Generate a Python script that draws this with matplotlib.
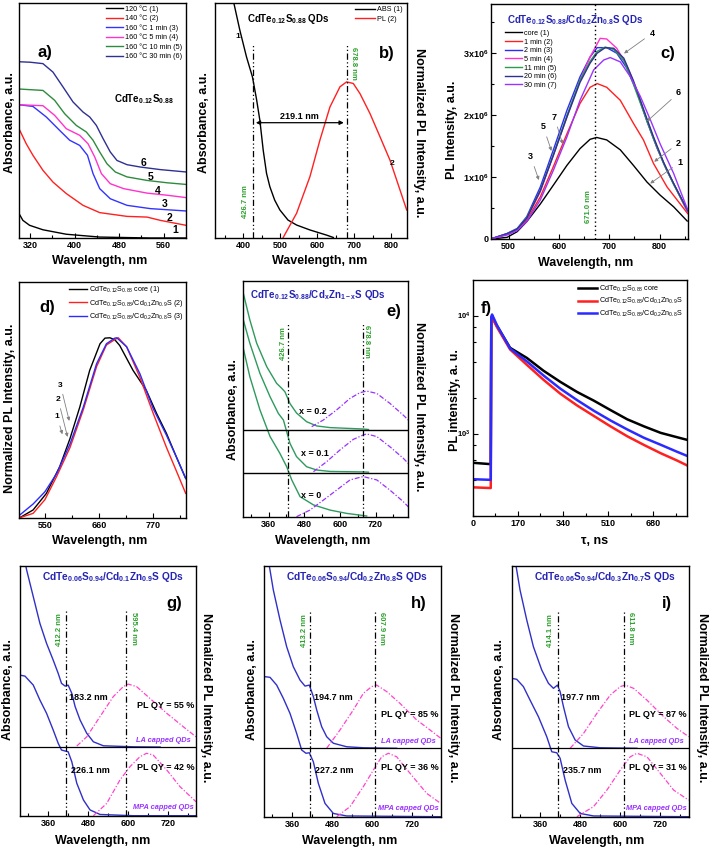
import numpy as np
import matplotlib
matplotlib.use('Agg')
import matplotlib.pyplot as plt
from matplotlib.ticker import FixedLocator, NullFormatter

plt.rcParams['font.family'] = ['Liberation Sans', 'DejaVu Sans']
plt.rcParams['font.weight'] = 'bold'
plt.rcParams['mathtext.default'] = 'regular'
plt.rcParams['axes.linewidth'] = 1.0

# ---------------- panel a: absorbance vs growth time ----------------
a_labels = ['120 °C (1)', '140 °C (2)', '160 °C 1 min (3)', '160 °C 5 min (4)',
            '160 °C 10 min (5)', '160 °C 30 min (6)']
a_x1 = [300, 307, 319, 343, 385, 445, 536, 600]
a_y1 = [0.104, 0.075, 0.054, 0.035, 0.016, 0.004, 0.0, 0.0]
a_x2 = [300, 313, 325, 343, 361, 385, 415, 445, 494, 530, 554, 578, 600]
a_y2 = [0.465, 0.401, 0.352, 0.288, 0.238, 0.189, 0.139, 0.108, 0.092, 0.089, 0.075, 0.064, 0.054]
a_x3 = [300, 325, 349, 373, 391, 409, 423, 433, 445, 464, 494, 536, 600]
a_y3 = [0.567, 0.560, 0.515, 0.458, 0.416, 0.394, 0.352, 0.274, 0.210, 0.167, 0.139, 0.125, 0.115]
a_x4 = [300, 343, 364, 385, 409, 424, 436, 448, 464, 488, 530, 566, 600]
a_y4 = [0.567, 0.563, 0.522, 0.465, 0.437, 0.401, 0.345, 0.274, 0.231, 0.210, 0.191, 0.182, 0.172]
a_x5 = [300, 343, 364, 382, 403, 421, 433, 445, 458, 473, 494, 530, 566, 600]
a_y5 = [0.634, 0.628, 0.586, 0.529, 0.479, 0.451, 0.416, 0.366, 0.316, 0.281, 0.260, 0.245, 0.235, 0.228]
a_x6 = [300, 320, 343, 361, 379, 397, 415, 427, 439, 451, 464, 476, 494, 518, 554, 600]
a_y6 = [0.750, 0.748, 0.742, 0.706, 0.643, 0.579, 0.536, 0.515, 0.479, 0.423, 0.366, 0.330, 0.312, 0.302, 0.291, 0.281]
a_colors = ['black', '#FF2020', '#3333FF', '#FF33CC', '#2E8B3E', '#2E3192']

# ---------------- panel b: ABS and PL ----------------
b_abs_x = [372, 391, 409, 425, 436, 445, 454, 463, 472, 485, 499, 521, 544, 580, 625, 643]
b_abs_y = [1.02, 0.884, 0.77, 0.685, 0.59, 0.5, 0.373, 0.274, 0.217, 0.16, 0.118, 0.075, 0.054, 0.033, 0.011, 0.001]
b_pl_x = [508, 544, 580, 607, 634, 661, 679, 697, 715, 742, 769, 796, 823, 841]
b_pl_y = [0.001, 0.104, 0.26, 0.416, 0.557, 0.643, 0.664, 0.657, 0.614, 0.529, 0.43, 0.33, 0.203, 0.118]
b_marks = [426.7, 678.8]

# ---------------- panel c: PL vs shell growth time (x1e6) ----------------
c_labels = ['core (1)', '1 min (2)', '2 min (3)', '5 min (4)', '11 min (5)', '20 min (6)', '30 min (7)']
c_colors = ['black', '#FF2020', '#2B2BFF', '#FF33CC', '#2E9A4E', '#2E3192', '#9933FF']
c_x1 = [466, 497, 517, 536, 563, 589, 616, 642, 662, 675, 695, 722, 748, 775, 801, 828, 855]
c_y1 = [0.0, 0.027, 0.118, 0.28, 0.565, 0.87, 1.19, 1.46, 1.61, 1.64, 1.60, 1.44, 1.19, 0.92, 0.71, 0.52, 0.29]
c_x2 = [466, 497, 517, 536, 563, 589, 616, 642, 662, 676, 695, 722, 748, 768, 788, 815, 835, 856]
c_y2 = [0.005, 0.075, 0.156, 0.306, 0.68, 1.17, 1.70, 2.19, 2.45, 2.51, 2.45, 2.24, 1.87, 1.60, 1.22, 0.84, 0.63, 0.41]
c_x3 = [466, 497, 517, 536, 563, 589, 616, 642, 662, 676, 695, 715, 735, 755, 775, 795, 815, 835, 856]
c_y3 = [0.005, 0.09, 0.17, 0.36, 0.84, 1.44, 2.08, 2.62, 2.94, 3.09, 3.09, 3.0, 2.76, 2.38, 1.90, 1.47, 1.10, 0.78, 0.44]
c_x4 = [466, 497, 517, 536, 563, 589, 616, 642, 662, 682, 695, 715, 735, 755, 775, 795, 815, 835, 856]
c_y4 = [0.005, 0.08, 0.156, 0.333, 0.763, 1.355, 1.973, 2.565, 2.94, 3.24, 3.23, 3.08, 2.80, 2.40, 1.92, 1.48, 1.10, 0.78, 0.43]
c_x5 = [466, 497, 517, 536, 563, 589, 616, 642, 662, 676, 692, 709, 729, 748, 768, 788, 808, 828, 856]
c_y5 = [0.005, 0.085, 0.16, 0.34, 0.79, 1.37, 2.0, 2.57, 2.87, 3.03, 3.10, 3.06, 2.88, 2.50, 2.06, 1.62, 1.22, 0.88, 0.45]
c_x6 = [466, 497, 517, 536, 563, 589, 616, 642, 662, 676, 692, 709, 729, 748, 768, 788, 808, 828, 856]
c_y6 = [0.005, 0.085, 0.16, 0.335, 0.78, 1.35, 1.97, 2.53, 2.84, 3.0, 3.09, 3.08, 2.92, 2.56, 2.10, 1.65, 1.24, 0.90, 0.46]
c_x7 = [466, 497, 517, 536, 563, 589, 616, 642, 669, 689, 702, 722, 742, 762, 782, 801, 828, 856]
c_y7 = [0.005, 0.065, 0.134, 0.28, 0.63, 1.11, 1.65, 2.24, 2.73, 2.89, 2.93, 2.86, 2.62, 2.30, 1.92, 1.54, 1.06, 0.47]
c_peak = 671.0

# ---------------- panel d: normalized PL ----------------
d_labels = [r'CdTe$_{0.12}$S$_{0.88}$ core (1)',
            r'CdTe$_{0.12}$S$_{0.88}$/Cd$_{0.1}$Zn$_{0.9}$S (2)',
            r'CdTe$_{0.12}$S$_{0.88}$/Cd$_{0.2}$Zn$_{0.8}$S (3)']
d_x1 = [499, 526, 553, 580, 601, 621, 641, 662, 672, 682, 692, 702, 729, 756, 777, 797, 817, 836]
d_y1 = [0.0, 0.043, 0.135, 0.283, 0.44, 0.616, 0.819, 0.967, 0.998, 1.0, 0.989, 0.957, 0.819, 0.708, 0.579, 0.468, 0.338, 0.218]
d_x2 = [499, 526, 550, 574, 601, 628, 655, 675, 692, 699, 716, 743, 770, 797, 817, 836]
d_y2 = [0.0, 0.024, 0.1, 0.23, 0.39, 0.6, 0.84, 0.96, 0.99, 1.0, 0.95, 0.78, 0.58, 0.39, 0.26, 0.135]
d_x3 = [499, 526, 550, 574, 601, 628, 655, 675, 692, 696, 716, 743, 770, 797, 817, 836]
d_y3 = [0.015, 0.076, 0.144, 0.246, 0.41, 0.615, 0.856, 0.967, 0.998, 1.0, 0.95, 0.8, 0.606, 0.458, 0.338, 0.218]

# ---------------- panel e: stacked ABS / PL ----------------
e_base = [0.187, 0.368]
e_abs_x = [[275, 297, 331, 365, 398, 421, 438, 466, 511, 567, 623, 690],
           [275, 297, 331, 365, 393, 410, 432, 454, 488, 522, 567, 679, 696],
           [275, 297, 320, 354, 387, 404, 415, 432, 454, 488, 522, 567, 679, 696]]
e_abs_y = [[0.714, 0.594, 0.453, 0.34, 0.269, 0.212, 0.156, 0.085, 0.05, 0.028, 0.014, 0.003],
           [0.835, 0.736, 0.608, 0.509, 0.438, 0.41, 0.311, 0.255, 0.212, 0.198, 0.192, 0.19, 0.189],
           [0.948, 0.835, 0.736, 0.636, 0.566, 0.545, 0.53, 0.48, 0.44, 0.403, 0.385, 0.378, 0.372, 0.37]]
e_pl_x = [[454, 499, 544, 589, 634, 667, 679, 724, 768, 813, 830],
          [511, 555, 600, 645, 679, 690, 724, 768, 813, 830],
          [505, 544, 589, 634, 667, 690, 724, 768, 813, 830]]
e_pl_y = [[0.0, 0.028, 0.07, 0.113, 0.156, 0.167, 0.17, 0.156, 0.113, 0.064, 0.042],
          [0.191, 0.233, 0.283, 0.328, 0.347, 0.351, 0.34, 0.297, 0.248, 0.226],
          [0.382, 0.41, 0.453, 0.502, 0.526, 0.533, 0.523, 0.481, 0.431, 0.41]]
e_text = ['x = 0', 'x = 0.1', 'x = 0.2']

# ---------------- panel f: PL decay ----------------
f_labels = [r'CdTe$_{0.12}$S$_{0.88}$ core',
            r'CdTe$_{0.12}$S$_{0.88}$/Cd$_{0.1}$Zn$_{0.9}$S',
            r'CdTe$_{0.12}$S$_{0.88}$/Cd$_{0.2}$Zn$_{0.8}$S']
f_t = [0, 68, 70, 73, 91, 141, 204, 267, 330, 393, 456, 519, 582, 645, 708, 770, 805]
f_black = [565, 550, 9500, 9800, 8200, 5320, 4370, 3400, 2740, 2250, 1900, 1580, 1320, 1150, 1013, 930, 887]
f_red = [350, 345, 9000, 9600, 8000, 5150, 3820, 2850, 2175, 1730, 1410, 1150, 948, 800, 681, 590, 540]
f_blue = [410, 405, 9800, 10200, 8300, 5250, 4085, 3100, 2400, 1920, 1560, 1290, 1083, 920, 803, 700, 650]

# ---------------- panels g, h, i: LA vs MPA capped ----------------
g_la_x = [285, 295, 315, 335, 355, 375, 390, 400, 411, 420, 431, 441, 456, 476, 496, 526, 616, 697]
g_la_y = [1.05, 0.984, 0.877, 0.77, 0.69, 0.623, 0.57, 0.53, 0.519, 0.523, 0.49, 0.437, 0.383, 0.33, 0.296, 0.28, 0.276, 0.275]
g_mpa_x = [275, 290, 315, 335, 355, 375, 390, 400, 411, 420, 431, 446, 466, 486, 516, 616, 805]
g_mpa_y = [0.563, 0.559, 0.523, 0.463, 0.41, 0.343, 0.29, 0.263, 0.259, 0.256, 0.216, 0.13, 0.063, 0.023, 0.005, 0.0, 0.0]
g_lapl_x = [446, 476, 516, 556, 586, 601, 626, 666, 717, 767, 805]
g_lapl_y = [0.279, 0.316, 0.397, 0.477, 0.517, 0.527, 0.517, 0.47, 0.41, 0.356, 0.316]
g_mpapl_x = [496, 536, 576, 606, 636, 656, 676, 717, 757, 805]
g_mpapl_y = [0.0, 0.049, 0.143, 0.196, 0.236, 0.25, 0.243, 0.183, 0.116, 0.056]

h_la_x = [283, 293, 303, 323, 343, 363, 383, 398, 411, 423, 433, 448, 463, 483, 523, 573, 673]
h_la_y = [1.06, 0.984, 0.904, 0.785, 0.678, 0.598, 0.545, 0.521, 0.525, 0.479, 0.426, 0.359, 0.319, 0.293, 0.279, 0.275, 0.273]
h_mpa_x = [275, 293, 313, 333, 353, 373, 388, 401, 411, 423, 438, 458, 483, 523, 805]
h_mpa_y = [0.559, 0.556, 0.525, 0.472, 0.412, 0.332, 0.266, 0.253, 0.255, 0.219, 0.133, 0.053, 0.013, 0.003, 0.0]
h_lapl_x = [463, 503, 543, 573, 598, 613, 643, 683, 733, 773, 805]
h_lapl_y = [0.273, 0.346, 0.426, 0.492, 0.519, 0.525, 0.499, 0.452, 0.386, 0.346, 0.313]
h_mpapl_x = [493, 533, 573, 603, 628, 648, 673, 713, 763, 805]
h_mpapl_y = [0.0, 0.04, 0.12, 0.186, 0.239, 0.253, 0.239, 0.173, 0.093, 0.053]

i_la_x = [281, 290, 300, 320, 340, 365, 385, 400, 412, 420, 430, 445, 465, 490, 540, 650]
i_la_y = [1.06, 0.984, 0.904, 0.785, 0.678, 0.585, 0.532, 0.512, 0.525, 0.499, 0.439, 0.359, 0.306, 0.282, 0.275, 0.273]
i_mpa_x = [275, 290, 310, 330, 355, 380, 395, 410, 420, 435, 455, 480, 520, 805]
i_mpa_y = [0.552, 0.548, 0.519, 0.465, 0.399, 0.319, 0.259, 0.255, 0.233, 0.146, 0.053, 0.013, 0.003, 0.0]
i_lapl_x = [450, 490, 530, 570, 600, 615, 640, 680, 730, 770, 805]
i_lapl_y = [0.273, 0.332, 0.412, 0.485, 0.519, 0.525, 0.512, 0.465, 0.399, 0.352, 0.319]
i_mpapl_x = [470, 520, 560, 600, 630, 650, 680, 720, 760, 805]
i_mpapl_y = [0.0, 0.04, 0.106, 0.186, 0.239, 0.253, 0.239, 0.173, 0.106, 0.066]

ghi_titles = [r'CdTe$_{0.06}$S$_{0.94}$/Cd$_{0.1}$Zn$_{0.9}$S QDs',
              r'CdTe$_{0.06}$S$_{0.94}$/Cd$_{0.2}$Zn$_{0.8}$S QDs',
              r'CdTe$_{0.06}$S$_{0.94}$/Cd$_{0.3}$Zn$_{0.7}$S QDs']
ghi_marks = [(412.2, 595.4), (413.2, 607.9), (414.1, 611.8)]
ghi_shift = [('183.2 nm', '226.1 nm'), ('194.7 nm', '227.2 nm'), ('197.7 nm', '235.7 nm')]
ghi_qy = [(55, 42), (85, 36), (87, 31)]
ghi_tag = ['g)', 'h)', 'i)']

W, H = 709, 852
fig = plt.figure(figsize=(W / 100, H / 100), dpi=100)

GREEN_T = '#2CA02C'
TITLE_B = '#2424B4'
DDOT = (0, (5, 2, 1, 2, 1, 2))
DASHDOT = (0, (4, 1.5, 1, 1.5))
LBL = 9
TCK = 6.5


def box(l, t, r, b):
    return fig.add_axes([l / W, 1 - b / H, (r - l) / W, (b - t) / H])


def ftext(px, py, s, rot=0, size=LBL, **kw):
    fig.text(px / W, 1 - py / H, s, rotation=rot, ha='center', va='center', fontsize=size, **kw)


def style(ax, major, minor):
    ax.set_xticks(major)
    ax.xaxis.set_minor_locator(FixedLocator(minor))
    ax.set_yticks([])
    ax.tick_params(axis='both', which='both', direction='in', labelsize=TCK, pad=2.5, width=0.8)
    ax.tick_params(which='major', length=3.5)
    ax.tick_params(which='minor', length=2)


leg_kw = dict(frameon=False, prop={'size': 5.2, 'weight': 'normal'}, handletextpad=0.3,
              borderaxespad=0.1, borderpad=0.2)

# ---- a ----
ax = box(19, 3, 186, 238)
for xs, ys, c, lab in zip([a_x1, a_x2, a_x3, a_x4, a_x5, a_x6], [a_y1, a_y2, a_y3, a_y4, a_y5, a_y6],
                          a_colors, a_labels):
    ax.plot(xs, ys, color=c, lw=1.0, label=lab)
ax.set_xlim(300, 600)
ax.set_ylim(0, 1)
style(ax, [320, 400, 480, 560], [360, 440, 520])
ax.legend(loc='upper right', bbox_to_anchor=(0.99, 1.0), handlelength=2.3, labelspacing=0.25, **leg_kw)
for k, (xx, yy) in enumerate([(580, 0.033), (571, 0.087), (562, 0.146), (549, 0.2), (537, 0.26), (524, 0.319)]):
    ax.text(xx, yy, str(k + 1), fontsize=7.5, ha='center', va='center')
ax.text(0.11, 0.79, 'a)', transform=ax.transAxes, fontsize=12, ha='left', va='center')
ax.text(0.745, 0.589, r'CdTe$_{0.12}$S$_{0.88}$', transform=ax.transAxes, fontsize=7, ha='center', va='center')
ftext(10, 123, 'Absorbance, a.u.', rot=90)
ftext(100, 261, 'Wavelength, nm')

# ---- b ----
ax = box(215, 3, 406.7, 237.7)
ax.plot(b_abs_x, b_abs_y, color='black', lw=1.0, label='ABS (1)')
ax.plot(b_pl_x, b_pl_y, color='#FF2020', lw=1.0, label='PL (2)')
ax.set_xlim(324, 841)
ax.set_ylim(0, 1)
style(ax, [400, 500, 600, 700, 800], [350, 450, 550, 650, 750])
for m in b_marks:
    ax.plot([m, m], [0, 0.827], color='black', lw=0.9, ls=DDOT)
ax.annotate('', xy=(b_marks[0], 0.49), xytext=(b_marks[1], 0.49),
            arrowprops=dict(arrowstyle='<|-|>', color='black', lw=0.9, mutation_scale=6))
ax.text(552, 0.515, '219.1 nm', fontsize=6.5, ha='center', va='center')
ax.text(407, 0.153, '426.7 nm', rotation=90, color=GREEN_T, fontsize=5.5, ha='center', va='center')
ax.text(697, 0.742, '678.8 nm', rotation=-90, color=GREEN_T, fontsize=5.5, ha='center', va='center')
ax.legend(loc='upper right', bbox_to_anchor=(0.99, 0.995), handlelength=2.8, labelspacing=0.35, **leg_kw)
ax.text(0.381, 0.93, r'CdTe$_{0.12}$S$_{0.88}$ QDs', transform=ax.transAxes, fontsize=7, ha='center', va='center')
ax.text(0.897, 0.786, 'b)', transform=ax.transAxes, fontsize=12, ha='center', va='center')
ax.text(0.12, 0.858, '1', transform=ax.transAxes, fontsize=6, ha='center', va='center')
ax.text(0.923, 0.318, '2', transform=ax.transAxes, fontsize=6, ha='center', va='center')
ftext(204, 123, 'Absorbance, a.u.', rot=90)
ftext(419, 133, 'Normalized PL Intensity, a.u.', rot=-90)
ftext(320, 261, 'Wavelength, nm')

# ---- c ----
ax = box(491, 4.3, 687.7, 239)
for xs, ys, c, lab in zip([c_x1, c_x2, c_x3, c_x4, c_x5, c_x6, c_x7],
                          [c_y1, c_y2, c_y3, c_y4, c_y5, c_y6, c_y7], c_colors, c_labels):
    ax.plot(xs, np.array(ys) * 1e6, color=c, lw=1.0, label=lab)
ax.set_xlim(465, 856)
ax.set_ylim(0, 3.79e6)
style(ax, [500, 600, 700, 800], [550, 650, 750, 850])
ax.set_yticks([0, 1e6, 2e6, 3e6])
ax.set_yticklabels(['0', r'1x10$^6$', r'2x10$^6$', r'3x10$^6$'])
ax.yaxis.set_minor_locator(FixedLocator([0.5e6, 1.5e6, 2.5e6, 3.5e6]))
ax.tick_params(axis='y', which='both', direction='in', labelsize=6.5, pad=2)
ax.axvline(c_peak, color='black', lw=1.0, ls=(0, (1, 2)))
ax.text(c_peak - 5, 0.52e6, '671.0 nm', rotation=90, color=GREEN_T, fontsize=5.5, ha='right', va='center')
ax.legend(loc='upper left', bbox_to_anchor=(0.06, 0.9), handlelength=2.3, labelspacing=0.22, **leg_kw)
ax.text(0.43, 0.935, r'CdTe$_{0.12}$S$_{0.88}$/Cd$_{0.2}$Zn$_{0.8}$S QDs', transform=ax.transAxes,
        fontsize=7, color=TITLE_B, ha='center', va='center')
ax.text(0.9, 0.79, 'c)', transform=ax.transAxes, fontsize=12, ha='center', va='center')
arr = dict(arrowstyle='-|>', color='0.5', lw=0.6, mutation_scale=5)
for s, xy, xt in [('4', (725, 2.97), (785, 3.32)), ('6', (771, 1.87), (838, 2.36)),
                  ('2', (785, 1.22), (838, 1.55)), ('1', (777, 0.87), (841, 1.24)),
                  ('7', (609, 1.49), (591, 1.97)), ('5', (587, 1.38), (569, 1.81)),
                  ('3', (562, 0.91), (544, 1.33))]:
    ax.annotate(s, xy=(xy[0], xy[1] * 1e6), xytext=(xt[0], xt[1] * 1e6), fontsize=6.5,
                ha='center', va='center', arrowprops=arr)
ftext(452, 130, 'PL Intensity, a.u.', rot=90)
ftext(586, 263, 'Wavelength, nm')

# ---- d ----
ax = box(19.3, 282, 185.7, 517.7)
for xs, ys, c, lab in zip([d_x1, d_x2, d_x3], [d_y1, d_y2, d_y3], ['black', '#FF2020', '#2B2BFF'], d_labels):
    ax.plot(xs, ys, color=c, lw=1.0, label=lab)
ax.set_xlim(498, 836)
ax.set_ylim(0, 1.31)
style(ax, [550, 660, 770], [495, 605, 715, 825])
ax.legend(loc='upper right', bbox_to_anchor=(1.0, 1.0), handlelength=2.5, labelspacing=0.35, **leg_kw)
for s, xy, xt in [('3', (600.8, 0.523), (581.8, 0.736)), ('2', (597.4, 0.434), (577, 0.656)),
                  ('1', (587, 0.449), (575, 0.56))]:
    ax.annotate(s, xy=xy, xytext=xt, fontsize=6, ha='center', va='center', arrowprops=arr)
ax.text(0.12, 0.89, 'd)', transform=ax.transAxes, fontsize=12, ha='left', va='center')
ftext(10, 408, 'Normalized PL Intensity, a.u.', rot=90)
ftext(100, 541, 'Wavelength, nm')

# ---- e ----
ax = box(243.3, 281, 408.3, 516.7)
for xs, ys in zip(e_abs_x, e_abs_y):
    ax.plot(xs, ys, color='#2E9A5E', lw=1.0)
for xs, ys in zip(e_pl_x, e_pl_y):
    ax.plot(xs, ys, color='#9B30FF', lw=0.9, ls=DASHDOT)
for yb in e_base:
    ax.axhline(yb, color='black', lw=1.0)
ax.set_xlim(275, 830)
ax.set_ylim(0, 1)
style(ax, [360, 480, 600, 720], [300, 420, 540, 660, 780])
for m in b_marks:
    ax.plot([m, m], [0, 0.82], color='black', lw=0.9, ls=DDOT)
ax.text(409, 0.735, '426.7 nm', rotation=90, color=GREEN_T, fontsize=5.5, ha='center', va='center')
ax.text(690, 0.742, '678.8 nm', rotation=-90, color=GREEN_T, fontsize=5.5, ha='center', va='center')
for s, (xx, yy) in zip(e_text, [(0.414, 0.092), (0.434, 0.269), (0.424, 0.448)]):
    ax.text(xx, yy, s, transform=ax.transAxes, fontsize=6.5, ha='center', va='center')
ax.text(0.45, 0.94, r'CdTe$_{0.12}$S$_{0.88}$/Cd$_x$Zn$_{1-x}$S QDs', transform=ax.transAxes,
        fontsize=7, color=TITLE_B, ha='center', va='center')
ax.text(0.91, 0.87, 'e)', transform=ax.transAxes, fontsize=12, ha='center', va='center')
ftext(233, 410, 'Absorbance, a.u.', rot=90)
ftext(419, 407, 'Normalized PL Intensity, a.u.', rot=-90)
ftext(323, 541, 'Wavelength, nm')

# ---- f ----
ax = box(472.7, 280, 686.7, 516)
ax.plot(f_t, f_black, color='black', lw=1.8, label=f_labels[0])
ax.plot(f_t, f_red, color='#FF2020', lw=1.8, label=f_labels[1])
ax.plot(f_t, f_blue, color='#2B2BFF', lw=1.8, label=f_labels[2])
ax.set_yscale('log')
ax.set_xlim(0, 806)
ax.set_ylim(200, 2e4)
style(ax, [0, 170, 340, 510, 680], [85, 255, 425, 595, 765])
ax.set_yticks([1e3, 1e4])
ax.set_yticklabels([r'10$^3$', r'10$^4$'])
ax.yaxis.set_minor_locator(FixedLocator([200, 400, 600, 800, 2000, 4000, 6000, 8000]))
ax.yaxis.set_minor_formatter(NullFormatter())
ax.tick_params(axis='y', which='both', direction='in', labelsize=5.5, pad=1.5)
ax.legend(loc='upper right', bbox_to_anchor=(0.99, 0.995), handlelength=2.5, labelspacing=0.35, **leg_kw)
ax.text(0.065, 0.88, 'f)', transform=ax.transAxes, fontsize=12, ha='center', va='center')
ftext(455, 400, 'PL intensity, a. u.', rot=90)
ftext(595, 541, 'τ, ns')

# ---- g, h, i ----
ghi_boxes = [(20, 566, 196, 815.7), (264, 566, 440.7, 816.7), (511.7, 566, 688.7, 816.7)]
ghi_data = [(g_la_x, g_la_y, g_mpa_x, g_mpa_y, g_lapl_x, g_lapl_y, g_mpapl_x, g_mpapl_y),
            (h_la_x, h_la_y, h_mpa_x, h_mpa_y, h_lapl_x, h_lapl_y, h_mpapl_x, h_mpapl_y),
            (i_la_x, i_la_y, i_mpa_x, i_mpa_y, i_lapl_x, i_lapl_y, i_mpapl_x, i_mpapl_y)]
ghi_green_x = [(393, 616), (395, 626), (392, 630)]
ghi_qy_y = [0.44, 0.406, 0.406]
ghi_ylab = [(8, 206, 103), (252, 453, 350), (499, 702, 597)]
for k in range(3):
    ax = box(*ghi_boxes[k])
    lax, lay, max_, may, lpx, lpy, mpx, mpy = ghi_data[k]
    ax.plot(lax, lay, color='#3030C8', lw=1.0)
    ax.plot(max_, may, color='#3030C8', lw=1.0)
    ax.plot(lpx, lpy, color='#FF44CC', lw=0.9, ls=DASHDOT)
    ax.plot(mpx, mpy, color='#FF44CC', lw=0.9, ls=DASHDOT)
    ax.axhline(0.275, color='black', lw=0.9)
    ax.set_xlim(275, 805)
    ax.set_ylim(0, 1)
    style(ax, [360, 480, 600, 720], [300, 420, 540, 660, 780])
    for m in ghi_marks[k]:
        ax.plot([m, m], [0, 0.826], color='black', lw=0.9, ls=DDOT)
    gx1, gx2 = ghi_green_x[k]
    ax.text(gx1, 0.744, '%.1f nm' % ghi_marks[k][0], rotation=90, color=GREEN_T, fontsize=5.5,
            ha='center', va='center')
    ax.text(gx2, 0.75, '%.1f nm' % ghi_marks[k][1], rotation=-90, color=GREEN_T, fontsize=5.5,
            ha='center', va='center')
    ax.text(0.39, 0.475, ghi_shift[k][0], transform=ax.transAxes, fontsize=6.5, ha='center', va='center')
    ax.text(0.40, 0.183, ghi_shift[k][1], transform=ax.transAxes, fontsize=6.5, ha='center', va='center')
    ax.text(0.826, ghi_qy_y[k], 'PL QY = %d %%' % ghi_qy[k][0], transform=ax.transAxes, fontsize=6.5,
            ha='center', va='center')
    ax.text(0.826, 0.195, 'PL QY = %d %%' % ghi_qy[k][1], transform=ax.transAxes, fontsize=6.5,
            ha='center', va='center')
    ax.text(0.816, 0.3, 'LA capped QDs', transform=ax.transAxes, fontsize=5.3, style='italic',
            color='#9933FF', ha='center', va='center')
    ax.text(0.816, 0.033, 'MPA capped QDs', transform=ax.transAxes, fontsize=5.3, style='italic',
            color='#9933FF', ha='center', va='center')
    ax.text(0.527, 0.955, ghi_titles[k], transform=ax.transAxes, fontsize=7.3, color=TITLE_B,
            ha='center', va='center')
    ax.text(0.875, 0.85, ghi_tag[k], transform=ax.transAxes, fontsize=12, ha='center', va='center')
    xl, xr, xc = ghi_ylab[k]
    ftext(xl, 690, 'Absorbance, a.u.', rot=90)
    ftext(xr, 698, 'Normalized PL Intensity, a.u.', rot=-90)
    ftext(xc, 841, 'Wavelength, nm')

fig.savefig('out.png', dpi=100)
